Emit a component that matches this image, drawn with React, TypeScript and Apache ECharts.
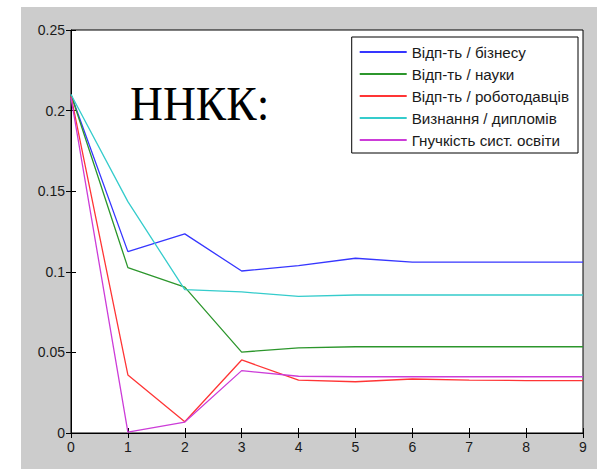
import React, { useEffect, useRef } from "react";
import * as echarts from "echarts";

const xCategories = [0, 1, 2, 3, 4, 5, 6, 7, 8, 9];
const seriesNames = [
  "Відп-ть / бізнесу",
  "Відп-ть / науки",
  "Відп-ть / роботодавців",
  "Визнання / дипломів",
  "Гнучкість сист. освіти",
];
const business = [0.21, 0.1125, 0.1235, 0.1005, 0.1038, 0.1084, 0.106, 0.106, 0.106, 0.106];
const science = [0.21, 0.1026, 0.0905, 0.0502, 0.0528, 0.0535, 0.0535, 0.0535, 0.0535, 0.0535];
const employers = [0.209, 0.036, 0.007, 0.0453, 0.0328, 0.0318, 0.0335, 0.0328, 0.0325, 0.0325];
const diplomas = [0.21, 0.1435, 0.0889, 0.0875, 0.0848, 0.0856, 0.0856, 0.0856, 0.0856, 0.0856];
const flexibility = [0.208, 0.0005, 0.0068, 0.0387, 0.0352, 0.0349, 0.0349, 0.0349, 0.0349, 0.0349];
const seriesData = [business, science, employers, diplomas, flexibility];
const colors = ["#3636ff", "#2c962c", "#ff3535", "#35cccc", "#cc3cd8"];
const yTicks = [0, 0.05, 0.1, 0.15, 0.2, 0.25];
const overlayText = "ННКК:";

export default function App() {
  const ref = useRef<HTMLDivElement>(null);
  useEffect(() => {
    document.body.style.margin = "0";
    const chart = echarts.init(ref.current!, null, { renderer: "svg" });
    const labelStyle = {
      color: "#1a1a1a",
      fontSize: 14,
      fontFamily: "Liberation Sans",
    };
    const hiddenAxisCommon = {
      axisLine: { show: false },
      axisLabel: { show: false },
      splitLine: { show: false },
      axisTick: { show: true, inside: true, length: 5, lineStyle: { color: "#000" } },
    };
    chart.setOption({
      animation: false,
      backgroundColor: "#ffffff",
      graphic: [
        {
          type: "rect",
          z: -10,
          silent: true,
          shape: { x: 21, y: 7, width: 576, height: 462 },
          style: { fill: "#cccccc" },
        },
        {
          type: "text",
          z: 100,
          x: 130,
          y: 80,
          scaleX: 0.95,
          style: {
            text: overlayText,
            font: '48px "Liberation Serif"',
            fill: "#000",
          },
        },
      ],
      grid: {
        left: 71,
        top: 30,
        right: 14,
        bottom: 36,
        show: true,
        backgroundColor: "#ffffff",
        borderColor: "#000",
        borderWidth: 1,
      },
      legend: {
        orient: "vertical",
        right: 19,
        top: 37,
        itemWidth: 47,
        itemHeight: 2,
        itemGap: 4,
        padding: [6, 9, 4, 8],
        borderColor: "#000",
        borderWidth: 1,
        backgroundColor: "#fff",
        textStyle: { ...labelStyle, fontSize: 15.2, lineHeight: 18 },
        icon: "rect",
        data: seriesNames,
      },
      xAxis: [
        {
          type: "value",
          min: 0,
          max: 9,
          interval: 1,
          axisLine: { show: true, lineStyle: { color: "#000" } },
          axisTick: { show: true, inside: true, length: 5, lineStyle: { color: "#000" } },
          axisLabel: { ...labelStyle, margin: 7, formatter: (v: number) => String(v) },
          splitLine: { show: false },
        },
        {
          type: "value",
          position: "top",
          min: 0,
          max: 9,
          interval: 1,
          ...hiddenAxisCommon,
        },
      ],
      yAxis: [
        {
          type: "value",
          min: 0,
          max: 0.25,
          interval: 0.05,
          axisLine: { show: true, lineStyle: { color: "#000" } },
          axisTick: { show: true, inside: true, length: 5, lineStyle: { color: "#000" } },
          axisLabel: {
            ...labelStyle,
            margin: 6,
            formatter: (v: number) => {
              const t = yTicks.find((y) => Math.abs(y - v) < 1e-9);
              return String(Number((t ?? v).toFixed(2)));
            },
          },
          splitLine: { show: false },
        },
        {
          type: "value",
          position: "right",
          min: 0,
          max: 0.25,
          interval: 0.05,
          ...hiddenAxisCommon,
        },
      ],
      series: seriesNames.map((name, i) => ({
        name,
        type: "line",
        xAxisIndex: 0,
        yAxisIndex: 0,
        data: seriesData[i].map((v, j) => [xCategories[j], v]),
        showSymbol: false,
        symbol: "none",
        lineStyle: { width: 1.3, color: colors[i] },
        itemStyle: { color: colors[i] },
      })),
    });
    return () => chart.dispose();
  }, []);
  return (
    <div
      ref={ref}
      style={{ position: "fixed", left: 0, top: 0, width: 597, height: 469 }}
    />
  );
}
